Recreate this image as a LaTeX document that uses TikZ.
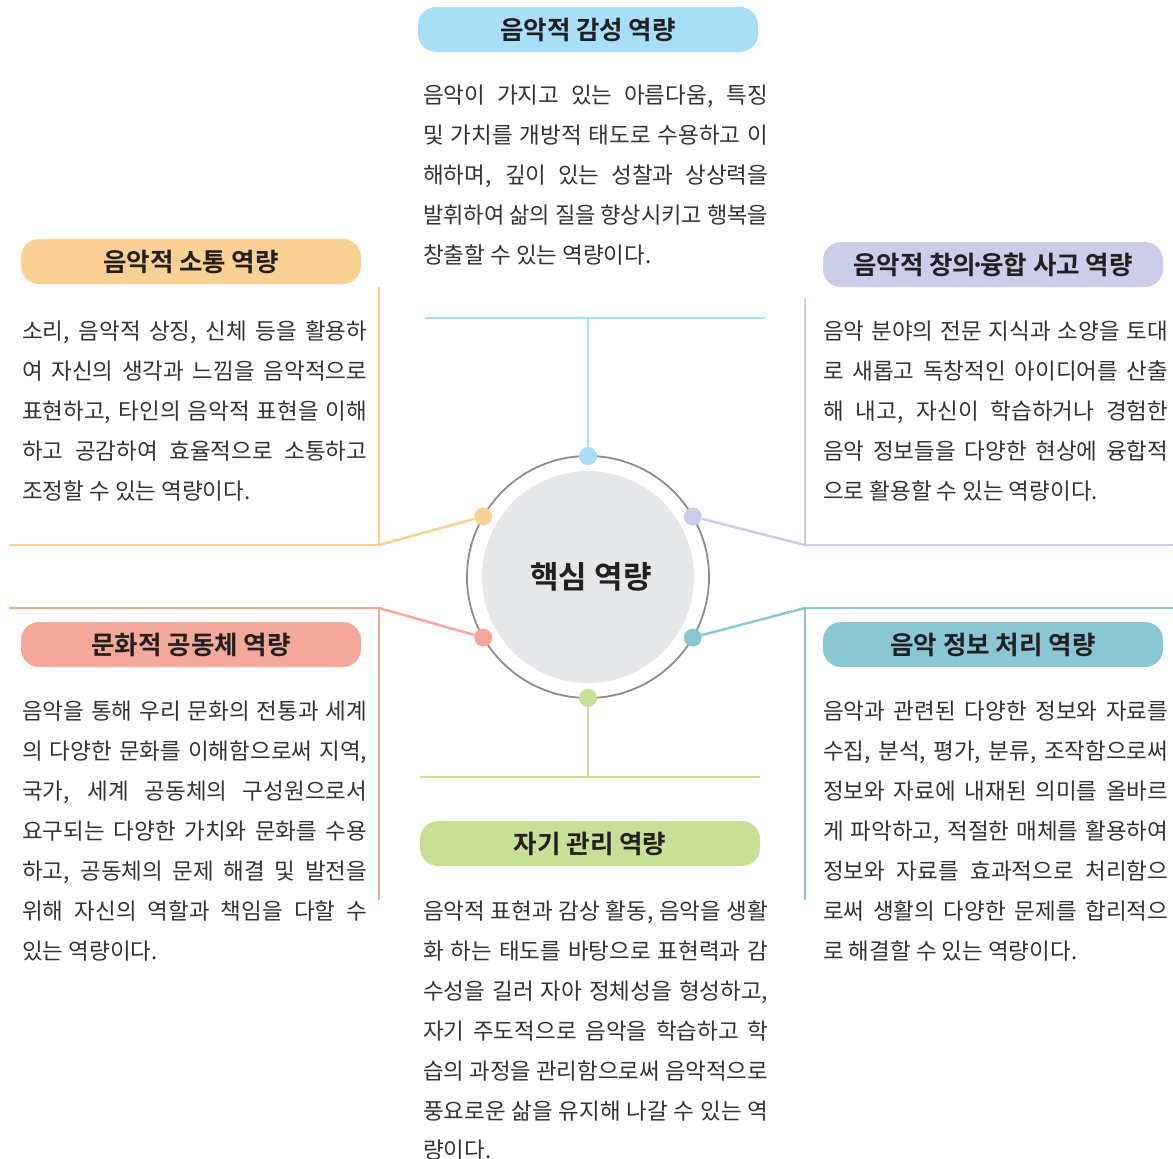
\documentclass[tikz,border=0pt]{standalone}
\usepackage{fontspec}
\usepackage{graphicx}
\setmainfont{Noto Sans CJK KR}[BoldFont={Noto Sans CJK KR Bold}]
\definecolor{cBlue}{HTML}{A8DEF7}
\definecolor{cOrange}{HTML}{F9D195}
\definecolor{cPurple}{HTML}{CBCDE9}
\definecolor{cSalmon}{HTML}{F4A89A}
\definecolor{cTeal}{HTML}{89C8D3}
\definecolor{cGreen}{HTML}{C8E096}
\definecolor{cCore}{HTML}{E6E7E9}
\definecolor{cRing}{HTML}{8D8D8F}
\definecolor{cText}{HTML}{333333}
\definecolor{cTitle}{HTML}{231F20}
\newsavebox\linebox
\newcommand\jline[1]{\sbox\linebox{#1}%
  \ifdim\wd\linebox>345pt
    \pgfmathsetmacro\lnratio{345/\wd\linebox}\scalebox{\lnratio}[1]{\usebox\linebox}%
  \else
    \makebox[345pt][s]{#1}%
  \fi}
\tikzset{
  titlebox/.style={rounded corners=18pt, minimum width=340pt, minimum height=45pt, inner sep=0pt,
    text=cTitle, font=\fontsize{25.5}{30}\selectfont\bfseries},
  body/.style={anchor=base west, inner sep=0pt, text=cText, font=\fontsize{22.5}{26}\selectfont},
  dotnode/.style={circle, minimum size=18pt, inner sep=0pt, outer sep=0pt},
  conn/.style={line width=2.5pt},
}
\begin{document}
\begin{tikzpicture}[x=1pt,y=-1pt]
\useasboundingbox (0,0) rectangle (1173,1159);

% core
\node[circle, fill=cCore, minimum size=212pt, inner sep=0pt, text=cTitle,
      font=\fontsize{31}{36}\selectfont\bfseries] (core) at (588,577) {\hspace{6pt}핵심 역량};
\node[circle, draw=cRing, line width=1.8pt, minimum size=242pt, inner sep=0pt, outer sep=0pt] (ring) at (588,577) {};

% dots
\node[dotnode, fill=cBlue]   (dT)  at (ring.90) {};
\node[dotnode, fill=cOrange] (dUL) at (ring.150) {};
\node[dotnode, fill=cPurple] (dUR) at (ring.30) {};
\node[dotnode, fill=cSalmon] (dLL) at (ring.210) {};
\node[dotnode, fill=cTeal]   (dLR) at (ring.330) {};
\node[dotnode, fill=cGreen]  (dB)  at (ring.270) {};

% junction coordinates
\coordinate (jT) at (588,318);  \coordinate (tL) at (425,318);  \coordinate (tR) at (765,318);
\coordinate (jB) at (588,777);  \coordinate (bL) at (420,777);  \coordinate (bR) at (760,777);
\coordinate (jUL) at (379,545); \coordinate (ulL) at (9,545);   \coordinate (ulT) at (379,287);
\coordinate (jUR) at (805,545); \coordinate (urR) at (1173,545); \coordinate (urT) at (805,298);
\coordinate (jLL) at (379,608); \coordinate (llL) at (9,608);   \coordinate (llB) at (379,900);
\coordinate (jLR) at (805,608); \coordinate (lrR) at (1173,608); \coordinate (lrB) at (805,900);

% connectors
\draw[conn, cBlue] (dT) -- (jT);   \draw[conn, cBlue] (tL) -- (tR);
\draw[conn, cGreen] (dB) -- (jB);  \draw[conn, cGreen] (bL) -- (bR);
\draw[conn, cOrange] (dUL) -- (jUL); \draw[conn, cOrange] (ulL) -- (jUL) -- (ulT);
\draw[conn, cPurple] (dUR) -- (jUR); \draw[conn, cPurple] (urR) -- (jUR) -- (urT);
\draw[conn, cSalmon] (dLL) -- (jLL); \draw[conn, cSalmon] (llL) -- (jLL) -- (llB);
\draw[conn, cTeal] (dLR) -- (jLR);   \draw[conn, cTeal] (lrR) -- (jLR) -- (lrB);

% titles
\node[titlebox, fill=cBlue]   (tTop) at (588,29.5) {음악적 감성 역량};
\node[titlebox, fill=cOrange] (tUL)  at (191,261.5) {음악적 소통 역량};
\node[titlebox, fill=cPurple] (tUR)  at (993,264.5) {음악적 창의\hspace{-0.22em}·\hspace{-0.22em}융합 사고 역량};
\node[titlebox, fill=cSalmon] (tLL)  at (191,644.5) {문화적 공동체 역량};
\node[titlebox, fill=cTeal]   (tLR)  at (993,644.5) {음악 정보 처리 역량};
\node[titlebox, fill=cGreen]  (tB)   at (590,843.5) {자기 관리 역량};

% top paragraph
\foreach \t [count=\i from 0] in {{음악이 가지고 있는 아름다움, 특징},{및 가치를 개방적 태도로 수용하고 이},{해하며, 깊이 있는 성찰과 상상력을},{발휘하여 삶의 질을 향상시키고 행복을}}
  \node[body] (pT-\i) at (423,{103+40*\i}) {\jline{\t}};
\node[body] (pT-4) at (423,263) {창출할 수 있는 역량이다.};

% upper-left paragraph
\foreach \t [count=\i from 0] in {{소리, 음악적 상징, 신체 등을 활용하},{여 자신의 생각과 느낌을 음악적으로},{표현하고, 타인의 음악적 표현을 이해},{하고 공감하여 효율적으로 소통하고}}
  \node[body] (pUL-\i) at (22,{339+40*\i}) {\jline{\t}};
\node[body] (pUL-4) at (22,499) {조정할 수 있는 역량이다.};

% upper-right paragraph
\foreach \t [count=\i from 0] in {{음악 분야의 전문 지식과 소양을 토대},{로 새롭고 독창적인 아이디어를 산출},{해 내고, 자신이 학습하거나 경험한},{음악 정보들을 다양한 현상에 융합적}}
  \node[body] (pUR-\i) at (823,{339+40*\i}) {\jline{\t}};
\node[body] (pUR-4) at (823,499) {으로 활용할 수 있는 역량이다.};

% lower-left paragraph
\foreach \t [count=\i from 0] in {{음악을 통해 우리 문화의 전통과 세계},{의 다양한 문화를 이해함으로써 지역,},{국가, 세계 공동체의 구성원으로서},{요구되는 다양한 가치와 문화를 수용},{하고, 공동체의 문제 해결 및 발전을},{위해 자신의 역할과 책임을 다할 수}}
  \node[body] (pLL-\i) at (22,{719+40*\i}) {\jline{\t}};
\node[body] (pLL-6) at (22,959) {있는 역량이다.};

% lower-right paragraph
\foreach \t [count=\i from 0] in {{음악과 관련된 다양한 정보와 자료를},{수집, 분석, 평가, 분류, 조작함으로써},{정보와 자료에 내재된 의미를 올바르},{게 파악하고, 적절한 매체를 활용하여},{정보와 자료를 효과적으로 처리함으},{로써 생활의 다양한 문제를 합리적으}}
  \node[body] (pLR-\i) at (823,{719+40*\i}) {\jline{\t}};
\node[body] (pLR-6) at (823,959) {로 해결할 수 있는 역량이다.};

% bottom paragraph
\foreach \t [count=\i from 0] in {{음악적 표현과 감상 활동, 음악을 생활},{화 하는 태도를 바탕으로 표현력과 감},{수성을 길러 자아 정체성을 형성하고,},{자기 주도적으로 음악을 학습하고 학},{습의 과정을 관리함으로써 음악적으로},{풍요로운 삶을 유지해 나갈 수 있는 역}}
  \node[body] (pB-\i) at (423,{919+40*\i}) {\jline{\t}};
\node[body] (pB-6) at (423,1158) {량이다.};
\end{tikzpicture}
\end{document}
